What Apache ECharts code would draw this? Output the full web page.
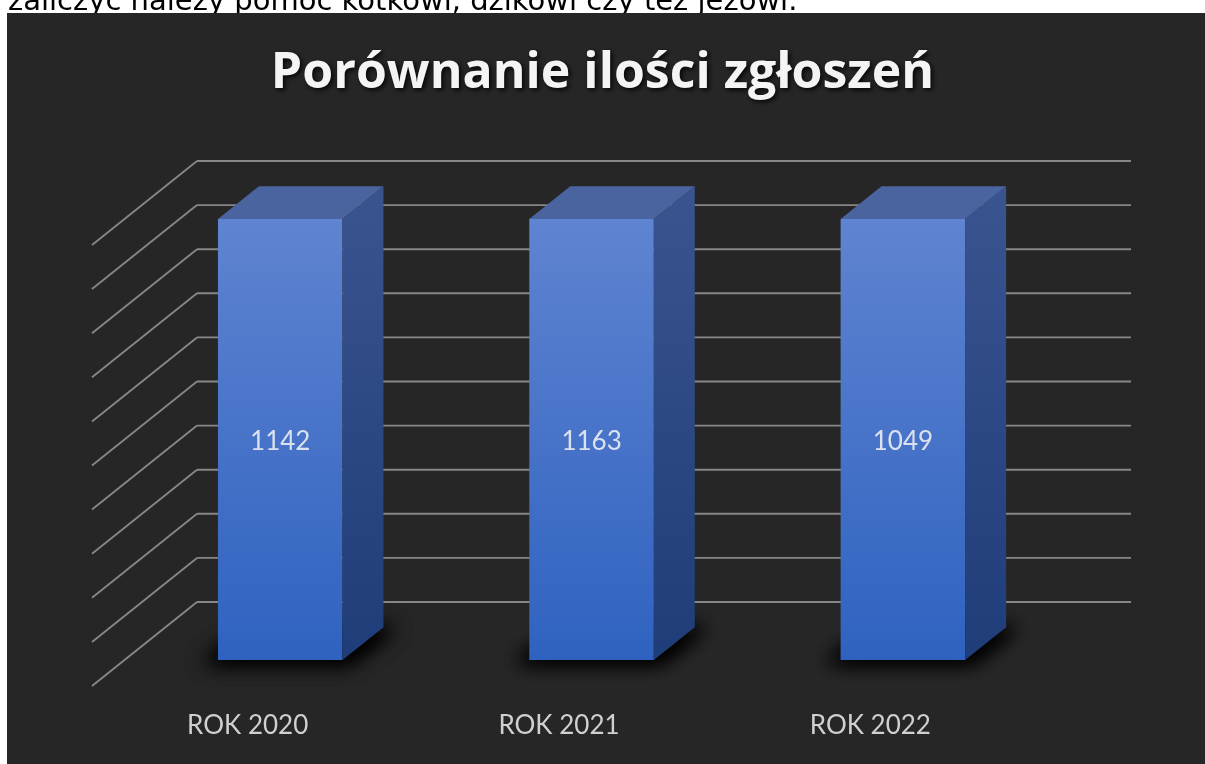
<!DOCTYPE html>
<html>
<head>
<meta charset="utf-8">
<title>Porównanie ilości zgłoszeń</title>
<script src="https://cdn.jsdelivr.net/npm/echarts/dist/echarts.min.js"></script>
<style>
    html, body { margin: 0; padding: 0; background: #fff; }
    #chart { width: 1205px; height: 764px; }
</style>
</head>
<body>
<div id="chart"></div>
<script>
    var categories = ['ROK 2020', 'ROK 2021', 'ROK 2022'];
    var counts = [1142, 1163, 1049];
    var percentTicks = [0, 10, 20, 30, 40, 50, 60, 70, 80, 90, 100];

    // 100% stacked column: one series per year, so each column is its share of the year total
    var totals = counts.slice();
    var shares = counts.map(function (v, i) { return v / totals[i] * 100; });

    // perspective: full depth of the box, and where the bars sit inside it
    var DEPTH = [105, -84];
    var BAR_FRONT = 0.31, BAR_BACK = 0.70, BAR_WIDTH = 0.40;
    var FAR = 3000; // shadow shape is drawn off screen, only its blur is moved back

    var chart = echarts.init(document.getElementById('chart'));

    function wallItem(params, api) {
        var cs = params.coordSys;
        var y = api.coord([0, api.value(1)])[1];
        var x0 = cs.x, x1 = cs.x + cs.width;
        var st = {stroke: '#878787', lineWidth: 1.9, fill: null};
        return {
            type: 'group',
            children: [
                {type: 'line', shape: {x1: x0, y1: y, x2: x0 + DEPTH[0], y2: y + DEPTH[1]}, style: st},
                {type: 'line', shape: {x1: x0 + DEPTH[0], y1: y + DEPTH[1], x2: x1 + DEPTH[0], y2: y + DEPTH[1]}, style: st}
            ]
        };
    }

    function barItem(params, api) {
        var i = api.value(0);
        var bottom = api.coord([i, 0]);
        var top = api.coord([i, api.value(1)]);
        var w = api.size([1, 0])[0] * BAR_WIDTH;
        var fx = DEPTH[0] * BAR_FRONT, fy = DEPTH[1] * BAR_FRONT;
        var bx = DEPTH[0] * BAR_BACK, by = DEPTH[1] * BAR_BACK;
        var xl = bottom[0] - w / 2, xr = bottom[0] + w / 2;
        var yb = bottom[1], yt = top[1];

        var front = {
            type: 'rect',
            shape: {x: xl + fx, y: yt + fy, width: w, height: yb - yt},
            style: {
                fill: new echarts.graphic.LinearGradient(0, 0, 0, 1, [
                    {offset: 0, color: '#5f84d1'},
                    {offset: 1, color: '#2f62c0'}
                ])
            }
        };
        var side = {
            type: 'polygon',
            shape: {points: [[xr + fx, yt + fy], [xr + bx, yt + by], [xr + bx, yb + by], [xr + fx, yb + fy]]},
            style: {
                fill: new echarts.graphic.LinearGradient(0, 0, 0, 1, [
                    {offset: 0, color: '#3a5490'},
                    {offset: 1, color: '#1f3d79'}
                ])
            }
        };
        var lid = {
            type: 'polygon',
            shape: {points: [[xl + fx, yt + fy], [xl + bx, yt + by], [xr + bx, yt + by], [xr + fx, yt + fy]]},
            style: {fill: '#4a649f'}
        };
        var foot = [[xl + fx - 16, yb + fy + 3], [xl + bx - 6, yb + by], [xr + bx + 12, yb + by], [xr + fx + 6, yb + fy + 3]];
        var shadow = {
            type: 'polygon',
            shape: {points: foot.map(function (p) { return [p[0] - FAR, p[1]]; })},
            style: {fill: '#000', shadowBlur: 20, shadowColor: 'rgba(0,0,0,1)', shadowOffsetX: FAR, shadowOffsetY: 0}
        };
        var label = {
            type: 'text',
            x: bottom[0] + fx,
            y: (yt + yb) / 2 + fy + 2,
            style: {
                text: String(counts[params.dataIndex]),
                fill: '#dbe1ee',
                font: '26px Lato',
                align: 'center',
                verticalAlign: 'middle'
            }
        };
        return {type: 'group', children: [shadow, shadow, front, side, lid, label]};
    }

    var option = {
        backgroundColor: '#ffffff',
        animation: false,
        title: {
            text: 'Porównanie ilości zgłoszeń',
            left: 'center',
            top: 44,
            textStyle: {
                color: '#f4f4f4',
                fontFamily: 'Open Sans',
                fontWeight: 'bold',
                fontSize: 50,
                textShadowColor: 'rgba(0,0,0,0.9)',
                textShadowBlur: 5,
                textShadowOffsetX: 2,
                textShadowOffsetY: 2
            }
        },
        graphic: [
            {
                type: 'text', left: 8, top: -12, z: -2,
                style: {text: 'zaliczyć należy pomoc kotkowi, dzikowi czy też jeżowi.', font: '29px "DejaVu Sans"', fill: '#000'}
            },
            {
                type: 'rect', left: 7, top: 13, z: -1,
                shape: {width: 1198, height: 751},
                style: {fill: '#262626'}
            }
        ],
        grid: {left: 92, right: 179, top: 245, bottom: 78},
        xAxis: {
            type: 'category',
            data: categories,
            axisLine: {show: false},
            axisTick: {show: false},
            axisLabel: {color: '#d0d0d0', fontFamily: 'Lato', fontSize: 26, margin: 27}
        },
        yAxis: {
            type: 'value',
            min: 0,
            max: 100,
            interval: 10,
            axisLine: {show: false},
            axisTick: {show: false},
            axisLabel: {show: false},
            splitLine: {show: false}
        },
        series: [
            {
                type: 'custom',
                name: 'walls',
                renderItem: wallItem,
                data: percentTicks.map(function (t) { return [0, t]; }),
                encode: {x: 0, y: 1},
                z: 2,
                silent: true
            },
            {
                type: 'custom',
                name: 'Zgłoszenia',
                renderItem: barItem,
                data: shares.map(function (s, i) { return [i, s]; }),
                encode: {x: 0, y: 1},
                z: 3
            }
        ]
    };

    chart.setOption(option);
</script>
</body>
</html>
